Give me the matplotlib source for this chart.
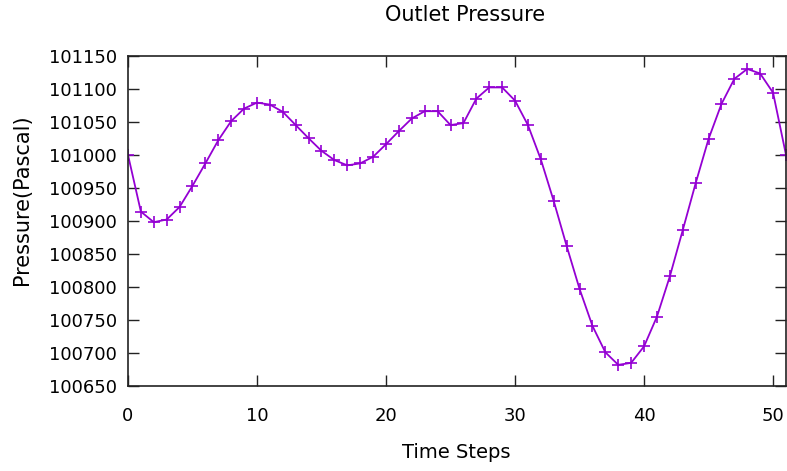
import numpy as np
import matplotlib
matplotlib.use("Agg")
import matplotlib.pyplot as plt

# time steps and outlet pressure
steps = list(range(52))
pressure = [
    101000, 100914, 100898, 100902, 100921, 100953, 100987, 101022,
    101051, 101070, 101079, 101076, 101065, 101045, 101025, 101006,
    100992, 100984, 100987, 100997, 101016, 101036, 101055, 101066,
    101066, 101045, 101048, 101085, 101102, 101102, 101082, 101045,
    100993, 100930, 100862, 100797, 100741, 100701, 100682, 100685,
    100710, 100755, 100816, 100886, 100957, 101024, 101077, 101115,
    101130, 101123, 101094, 101000,
]
x_ticks = [0, 10, 20, 30, 40, 50]
y_ticks = list(range(100650, 101151, 50))

plt.rcParams['font.family'] = ['DejaVu Sans']

W, H = 787, 471
fig = plt.figure(figsize=(W / 100, H / 100), dpi=100)
ax = fig.add_axes([0.1626, 0.1805, 0.8361, 0.7012])

ax.plot(steps, pressure, color='#9400D3', linewidth=1.3, marker='+',
        markersize=9, markeredgewidth=1.2, clip_on=True)

ax.set_xlim(0, 51)
ax.set_ylim(100650, 101150)
ax.set_xticks(x_ticks)
ax.set_yticks(y_ticks)
ax.tick_params(direction='in', length=8, width=1, top=True, right=True,
               labelsize=13, colors='#222222', labelcolor='black')
ax.tick_params(axis='x', pad=15)
ax.tick_params(axis='y', pad=8)
for spine in ax.spines.values():
    spine.set_linewidth(1.2)
    spine.set_color('#222222')

# titles placed like the gnuplot original
fig.text(465 / W, 1 - 15 / H, "Outlet Pressure", fontsize=15,
         ha='center', va='center')
fig.text(456 / W, 1 - 452 / H, "Time Steps", fontsize=14,
         ha='center', va='center')
fig.text(22 / W, 1 - 200 / H, "Pressure(Pascal)", fontsize=15,
         ha='center', va='center', rotation=90)

fig.savefig("out.png", dpi=100)
